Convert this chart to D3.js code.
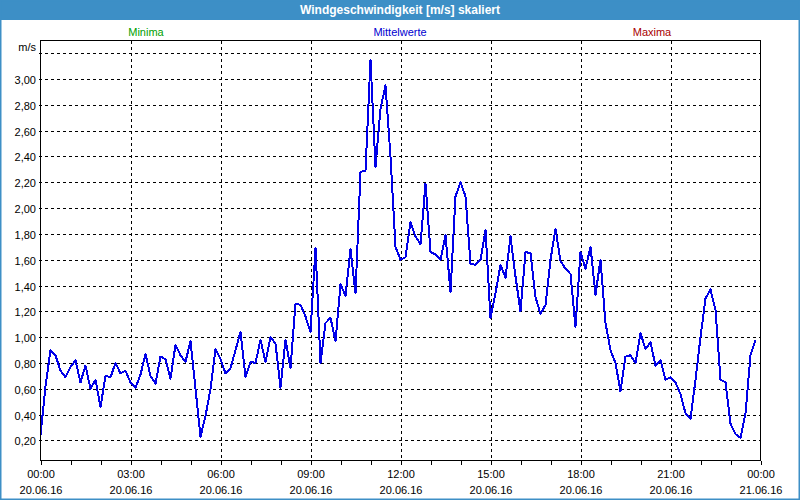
<!DOCTYPE html>
<html>
<head>
<meta charset="utf-8">
<script src="https://cdn.jsdelivr.net/npm/d3@7"></script>
<style>
  html, body { margin: 0; padding: 0; background: #fff; }
  svg { display: block; font-family: "Liberation Sans", Arial, sans-serif; }
</style>
</head>
<body>
<svg id="chart" width="800" height="500"></svg>
<script>
// ---- data ----
const title = "Windgeschwindigkeit [m/s] skaliert";
const legendLabels = ["Minima", "Mittelwerte", "Maxima"];
const unitLabel = "m/s";
const startTime = "2016-06-20T00:00:00";
const endTime = "2016-06-21T00:00:00";
const stepMinutes = 10;
const yTickValues = [0.2, 0.4, 0.6, 0.8, 1.0, 1.2, 1.4, 1.6, 1.8, 2.0, 2.2, 2.4, 2.6, 2.8, 3.0, 3.2];
const yLabelValues = [0.2, 0.4, 0.6, 0.8, 1.0, 1.2, 1.4, 1.6, 1.8, 2.0, 2.2, 2.4, 2.6, 2.8, 3.0];
const yDomain = [0.045, 3.298];
const xTickHours = [0, 3, 6, 9, 12, 15, 18, 21, 24];
const meanValues = [
  0.24, 0.62, 0.90, 0.86, 0.74, 0.69, 0.77, 0.82, 0.65, 0.78, 0.60, 0.67, 0.46, 0.70, 0.69, 0.80, 0.72, 0.74, 0.65, 0.61, 0.71, 0.87, 0.70, 0.64, 0.85,
  0.83, 0.68, 0.94, 0.86, 0.81, 0.97, 0.60, 0.23, 0.39, 0.60, 0.91, 0.83, 0.72, 0.76, 0.90, 1.04, 0.69, 0.81, 0.80, 0.98, 0.81, 1.00, 0.95, 0.61,
  0.98, 0.76, 1.26, 1.25, 1.16, 1.04, 1.69, 0.80, 1.11, 1.15, 0.97, 1.41, 1.32, 1.68, 1.34, 2.28, 2.29, 3.15, 2.32, 2.77, 2.95, 2.40, 1.70, 1.60,
  1.62, 1.89, 1.78, 1.72, 2.19, 1.66, 1.64, 1.60, 1.79, 1.35, 2.09, 2.20, 2.09, 1.57, 1.56, 1.60, 1.83, 1.15, 1.34, 1.56, 1.46, 1.78, 1.47, 1.20,
  1.66, 1.65, 1.31, 1.18, 1.25, 1.60, 1.84, 1.59, 1.53, 1.49, 1.08, 1.66, 1.53, 1.70, 1.33, 1.60, 1.11, 0.90, 0.80, 0.58, 0.85, 0.86, 0.80, 1.03,
  0.91, 0.96, 0.78, 0.82, 0.67, 0.69, 0.65, 0.56, 0.41, 0.37, 0.67, 1.00, 1.30, 1.37, 1.21, 0.67, 0.65, 0.33, 0.25, 0.22, 0.41, 0.86, 0.98
];

// ---- layout ----
const W = 800, H = 500;
const plot = { left: 40.5, right: 760.5, top: 40.5, bottom: 460.5 };
const colors = { bar: "#3d8fc6", frame: "#3d8fc6", line: "#0000e8", min: "#00a000", mean: "#0000d0", max: "#a80000" };

const svg = d3.select("#chart");
const t0 = new Date(startTime), t1 = new Date(endTime);
const x = d3.scaleTime().domain([t0, t1]).range([plot.left, plot.right]);
const y = d3.scaleLinear().domain(yDomain).range([plot.bottom, plot.top]);
const fmtY = d => d3.format(".2f")(d).replace(".", ",");
const fmtTime = d3.timeFormat("%H:%M");
const fmtDate = d3.timeFormat("%d.%m.%y");

// background + window frame
svg.append("rect").attr("x", 0).attr("y", 0).attr("width", W).attr("height", H).attr("fill", "#fff");
svg.append("rect").attr("x", 0).attr("y", 0).attr("width", W).attr("height", 20).attr("fill", colors.bar);
svg.append("rect").attr("x", 0.5).attr("y", 0.5).attr("width", W - 1).attr("height", H - 1)
  .attr("fill", "none").attr("stroke", colors.frame).attr("stroke-width", 2);

svg.append("text").attr("x", W / 2).attr("y", 14).attr("text-anchor", "middle")
  .attr("fill", "#fff").attr("font-weight", "bold").attr("font-size", 12).text(title);

// legend labels
const legendX = [146, 400, 652];
const legendColors = [colors.min, colors.mean, colors.max];
legendLabels.forEach((l, i) => {
  svg.append("text").attr("x", legendX[i]).attr("y", 36).attr("text-anchor", "middle")
    .attr("font-size", 11).attr("fill", legendColors[i]).text(l);
});

// grid
const hourTimes = d3.range(0, 25).map(h => d3.timeHour.offset(t0, h));
const majorTimes = xTickHours.map(h => d3.timeHour.offset(t0, h));
const g = svg.append("g").attr("shape-rendering", "crispEdges");
g.selectAll("line.hg").data(yTickValues).join("line")
  .attr("x1", plot.left - 2).attr("x2", plot.right)
  .attr("y1", d => Math.round(y(d)) + 0.5).attr("y2", d => Math.round(y(d)) + 0.5)
  .attr("stroke", "#000").attr("stroke-width", 1).attr("stroke-dasharray", "3,3");
g.selectAll("line.vg").data(majorTimes.slice(1, -1)).join("line")
  .attr("x1", d => Math.round(x(d)) + 0.5).attr("x2", d => Math.round(x(d)) + 0.5)
  .attr("y1", plot.top).attr("y2", plot.bottom)
  .attr("stroke", "#000").attr("stroke-width", 1).attr("stroke-dasharray", "3,3");

// hourly ticks below axis
g.selectAll("line.tk").data(hourTimes).join("line")
  .attr("x1", d => Math.round(x(d)) + 0.5).attr("x2", d => Math.round(x(d)) + 0.5)
  .attr("y1", plot.bottom).attr("y2", plot.bottom + 4)
  .attr("stroke", "#000").attr("stroke-width", 1);

// y labels
svg.selectAll("text.yl").data(yLabelValues).join("text")
  .attr("x", 36).attr("y", d => Math.round(y(d)) + 5)
  .attr("text-anchor", "end").attr("font-size", 11).attr("fill", "#000").text(fmtY);
svg.append("text").attr("x", 36).attr("y", 51).attr("text-anchor", "end")
  .attr("font-size", 11).attr("fill", "#000").text(unitLabel);

// x labels
const xl = svg.selectAll("g.xl").data(majorTimes).join("g")
  .attr("transform", d => `translate(${Math.round(x(d))},0)`);
xl.append("text").attr("y", 478).attr("text-anchor", "middle").attr("font-size", 11).text(fmtTime);
xl.append("text").attr("y", 494).attr("text-anchor", "middle").attr("font-size", 11).text(fmtDate);

// data line
const data = meanValues.map((v, i) => ({ t: d3.timeMinute.offset(t0, i * stepMinutes), v }));
svg.append("path").datum(data)
  .attr("fill", "none").attr("stroke", colors.line).attr("stroke-width", 2)
  .attr("stroke-linejoin", "round").attr("shape-rendering", "crispEdges")
  .attr("d", d3.line().x(d => x(d.t)).y(d => y(d.v)));

// plot frame
svg.append("rect").attr("x", plot.left).attr("y", plot.top)
  .attr("width", plot.right - plot.left).attr("height", plot.bottom - plot.top)
  .attr("fill", "none").attr("stroke", "#000").attr("stroke-width", 1)
  .attr("shape-rendering", "crispEdges");
</script>
</body>
</html>
